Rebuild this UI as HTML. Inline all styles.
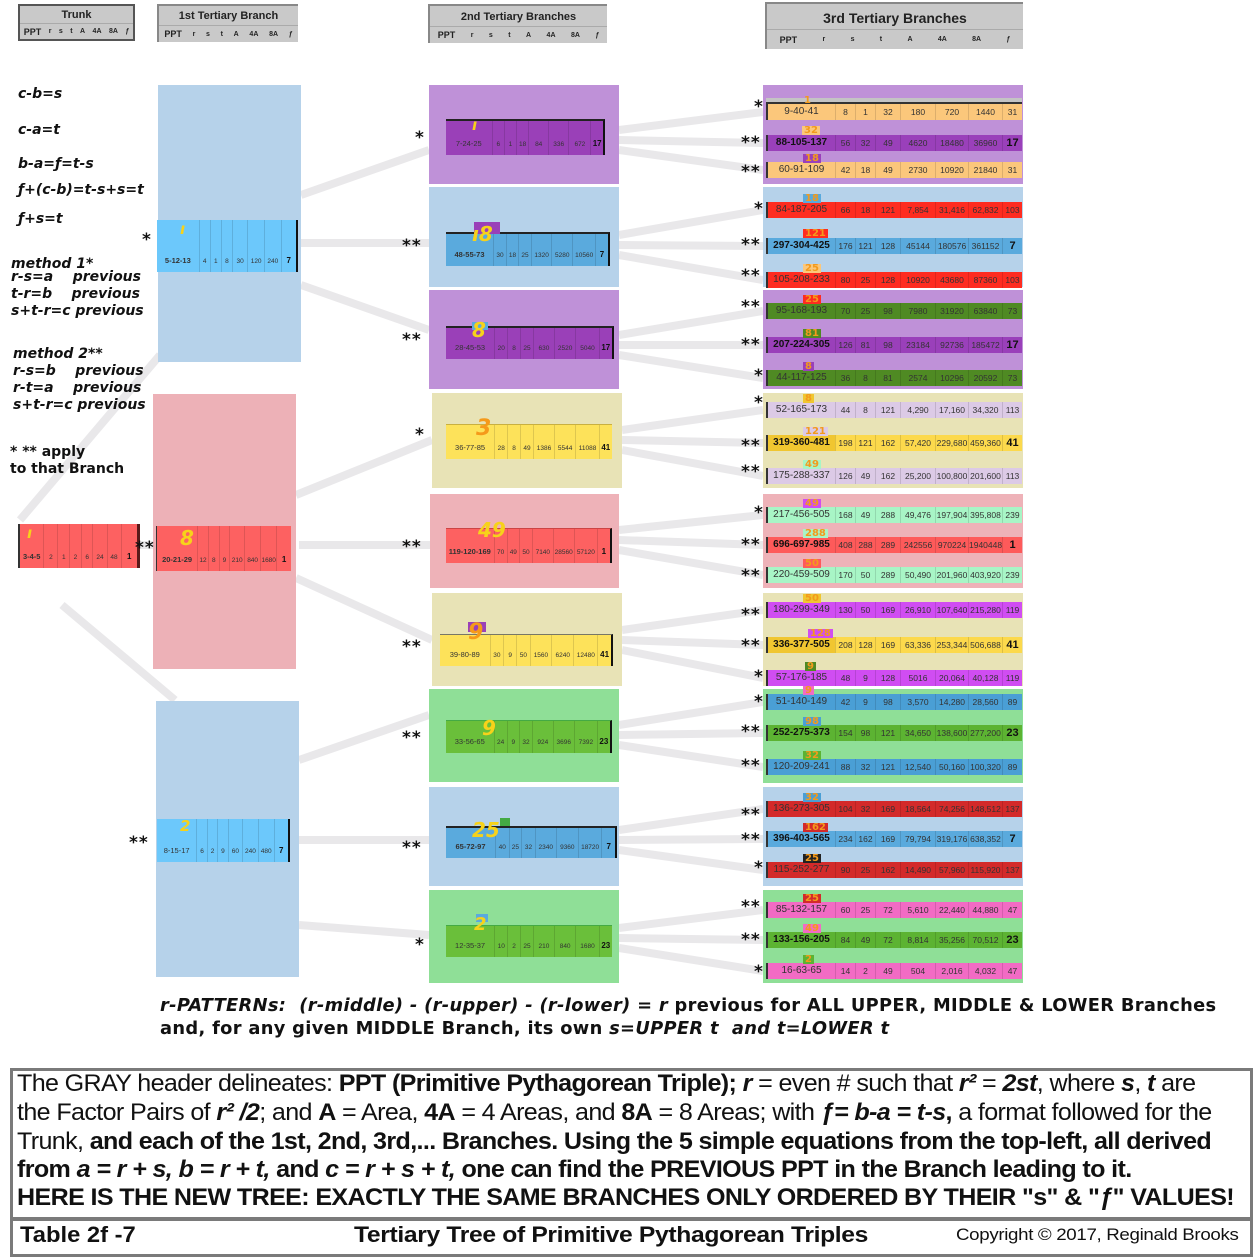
<!DOCTYPE html>
<html><head><meta charset="utf-8">
<style>
*{margin:0;padding:0;box-sizing:border-box}
body{width:1260px;height:1260px;background:#fff;position:relative;overflow:hidden;font-family:"Liberation Sans",sans-serif;color:#111}
.a{position:absolute}
.hd{position:absolute;background:#c9c9c9;border-top:2px solid #888;border-left:2px solid #888;text-align:center;font-weight:bold;color:#222}
.hd .sub{position:absolute;left:0;right:0;bottom:0;display:flex;justify-content:space-around;align-items:center;font-size:7px;border-top:1px solid #aaa}
.hd .sub b:first-child{font-size:9px}
.r3{position:absolute;left:766px;width:256px;height:16px;display:grid;grid-template-columns:69px 20px 20px 25px 35px 33px 34px 20px;font-size:8.5px;color:#333}
.r3 span{text-align:center;line-height:16px;border-left:1px solid rgba(0,0,0,.12);white-space:nowrap;overflow:hidden}
.r3 span:first-child{font-size:10px;border-left:2px solid #333}
.r3.b span:first-child{font-weight:bold;color:#111}
.r3.b span:last-child{font-weight:bold;font-size:11px;color:#111}
.r2{position:absolute;display:grid;grid-template-columns:29% 8% 7.5% 8% 12.5% 13% 14% 8%;font-size:6.5px;color:#333;border-right:2px solid #111;border-top:2px solid #222}
.r2 span{text-align:center;border-left:1px solid rgba(0,0,0,.12);display:flex;align-items:flex-end;justify-content:center;padding-bottom:7px}
.r2 span:first-child{font-size:7.5px;border-left:none}
.r2 span:last-child{font-weight:bold;font-size:8px;color:#111}
.st{position:absolute;font:bold 17px "DejaVu Sans",sans-serif;color:#111;letter-spacing:1px}
.hw{position:absolute;font:bold 15px "DejaVu Sans",sans-serif;font-style:italic;color:#f7d21a}
.hw3{position:absolute;font:bold 10px "DejaVu Sans",sans-serif;color:#f39a1c;line-height:9px;padding:0 2px}
.lt{position:absolute;font:bold italic 14px "DejaVu Sans",sans-serif;color:#111;white-space:nowrap}
.bt{position:absolute;left:17px;white-space:nowrap;font-size:24px;letter-spacing:-0.6px;color:#111;transform:scaleX(1.045);transform-origin:0 0}
.rp{position:absolute;left:160px;font:bold 18px 'DejaVu Sans Condensed','DejaVu Sans',sans-serif;white-space:nowrap;letter-spacing:0.3px;transform:scaleX(1.1);transform-origin:0 0}
</style></head><body>

<svg class="a" style="left:0;top:0" width="1260" height="1000">
<g stroke="#e9e8ea" stroke-width="8" fill="none">
<line x1="20" y1="520" x2="160" y2="355"/>
<line x1="62" y1="605" x2="175" y2="700"/>
<line x1="126" y1="545" x2="158" y2="545"/>
<line x1="301" y1="195" x2="429" y2="150"/>
<line x1="301" y1="243" x2="429" y2="243"/>
<line x1="301" y1="285" x2="429" y2="330"/>
<line x1="296" y1="495" x2="432" y2="440"/>
<line x1="299" y1="545" x2="430" y2="545"/>
<line x1="296" y1="578" x2="432" y2="640"/>
<line x1="299" y1="760" x2="429" y2="715"/>
<line x1="299" y1="840" x2="429" y2="840"/>
<line x1="299" y1="925" x2="429" y2="935"/>
<line x1="619" y1="130" x2="763" y2="112"/><line x1="619" y1="140" x2="763" y2="143"/><line x1="619" y1="150" x2="763" y2="170"/>
<line x1="619" y1="235" x2="763" y2="210"/><line x1="619" y1="245" x2="763" y2="246"/><line x1="619" y1="255" x2="763" y2="280"/>
<line x1="619" y1="335" x2="763" y2="311"/><line x1="619" y1="345" x2="763" y2="345"/><line x1="619" y1="355" x2="763" y2="378"/>
<line x1="622" y1="430" x2="763" y2="410"/><line x1="622" y1="440" x2="763" y2="443"/><line x1="622" y1="450" x2="763" y2="476"/>
<line x1="619" y1="530" x2="763" y2="515"/><line x1="619" y1="540" x2="763" y2="545"/><line x1="619" y1="550" x2="763" y2="575"/>
<line x1="622" y1="630" x2="763" y2="610"/><line x1="622" y1="640" x2="763" y2="645"/><line x1="622" y1="650" x2="763" y2="678"/>
<line x1="619" y1="725" x2="763" y2="702"/><line x1="619" y1="735" x2="763" y2="733"/><line x1="619" y1="745" x2="763" y2="767"/>
<line x1="619" y1="830" x2="763" y2="809"/><line x1="619" y1="840" x2="763" y2="839"/><line x1="619" y1="850" x2="763" y2="870"/>
<line x1="619" y1="928" x2="763" y2="910"/><line x1="619" y1="938" x2="763" y2="940"/><line x1="619" y1="948" x2="763" y2="971"/>
</g></svg>

<div class="hd" style="left:18px;top:4px;width:117px;height:37px;border:2px solid #555;font-size:11px;padding-top:3px">Trunk
<div class="sub" style="height:16px"><b>PPT</b><b>r</b><b>s</b><b>t</b><b>A</b><b>4A</b><b>8A</b><b>ƒ</b></div></div>
<div class="hd" style="left:157px;top:4px;width:141px;height:38px;font-size:11px;padding-top:4px">1st Tertiary Branch
<div class="sub" style="height:17px"><b>PPT</b><b>r</b><b>s</b><b>t</b><b>A</b><b>4A</b><b>8A</b><b>ƒ</b></div></div>
<div class="hd" style="left:428px;top:4px;width:179px;height:39px;font-size:11px;padding-top:5px">2nd Tertiary Branches
<div class="sub" style="height:17px"><b>PPT</b><b>r</b><b>s</b><b>t</b><b>A</b><b>4A</b><b>8A</b><b>ƒ</b></div></div>
<div class="hd" style="left:765px;top:2px;width:258px;height:47px;font-size:14px;padding-top:6px">3rd Tertiary Branches
<div class="sub" style="height:20px"><b>PPT</b><b>r</b><b>s</b><b>t</b><b>A</b><b>4A</b><b>8A</b><b>ƒ</b></div></div>

<div class="lt" style="left:18px;top:86px">c-b=s</div>
<div class="lt" style="left:18px;top:122px">c-a=t</div>
<div class="lt" style="left:18px;top:156px">b-a=ƒ=t-s</div>
<div class="lt" style="left:18px;top:182px">ƒ+(c-b)=t-s+s=t</div>
<div class="lt" style="left:18px;top:211px">ƒ+s=t</div>
<div class="lt" style="left:11px;top:256px">method 1*</div>
<div class="lt" style="left:11px;top:269px">r-s=a&nbsp;&nbsp;&nbsp;&nbsp;previous</div>
<div class="lt" style="left:11px;top:286px">t-r=b&nbsp;&nbsp;&nbsp;&nbsp;previous</div>
<div class="lt" style="left:11px;top:303px">s+t-r=c previous</div>
<div class="lt" style="left:13px;top:346px">method 2**</div>
<div class="lt" style="left:13px;top:363px">r-s=b&nbsp;&nbsp;&nbsp;&nbsp;previous</div>
<div class="lt" style="left:13px;top:380px">r-t=a&nbsp;&nbsp;&nbsp;&nbsp;previous</div>
<div class="lt" style="left:13px;top:397px">s+t-r=c previous</div>
<div class="lt" style="left:10px;top:444px;font-style:normal">* ** apply</div>
<div class="lt" style="left:10px;top:461px;font-style:normal">to that Branch</div>

<div class="a" style="left:158px;top:85px;width:143px;height:277px;background:#b6d2ea"></div>
<div class="a" style="left:153px;top:394px;width:143px;height:275px;background:#edb1b7"></div>
<div class="a" style="left:156px;top:701px;width:143px;height:276px;background:#b6d2ea"></div>

<div class="r2" style="left:157px;top:220px;width:141px;height:52px;background:#6cc8fb;border-top:none;grid-template-columns:30% 8% 8% 8% 11% 12% 12% 11%"><span style="font-weight:bold">5-12-13</span><span>4</span><span>1</span><span>8</span><span>30</span><span>120</span><span>240</span><span>7</span></div>
<div class="r2" style="left:156px;top:526px;width:135px;height:45px;background:#fd6161;border-top:none;border-right:none;border-left:1px solid #333;grid-template-columns:30% 8% 8% 8% 11% 12% 12% 11%"><span style="font-weight:bold">20-21-29</span><span>12</span><span>8</span><span>9</span><span>210</span><span>840</span><span>1680</span><span>1</span></div>
<div class="r2" style="left:157px;top:819px;width:133px;height:43px;background:#6cc8fb;border-top:none;grid-template-columns:30% 8% 8% 8% 11% 12% 12% 11%"><span>8-15-17</span><span>6</span><span>2</span><span>9</span><span>60</span><span>240</span><span>480</span><span>7</span></div>
<div class="r2" style="left:18px;top:524px;width:122px;height:44px;background:#fd6161;border-top:none;border-left:2px solid #333;border-right:3px solid #5a1a1a;grid-template-columns:20% 12% 10% 10% 10% 12% 12% 14%"><span style="font-weight:bold">3-4-5</span><span>2</span><span>1</span><span>2</span><span>6</span><span>24</span><span>48</span><span>1</span></div>

<div class="hw" style="left:27px;top:524px">ı</div>
<div class="hw" style="left:180px;top:220px">ı</div>
<div class="hw" style="left:180px;top:526px;font-size:20px">8</div>
<div class="hw" style="left:180px;top:817px">2</div>

<div class="st" style="left:142px;top:230px">*</div>
<div class="st" style="left:135px;top:538px">**</div>
<div class="st" style="left:129px;top:833px">**</div>

<div class="a" style="left:429px;top:85px;width:190px;height:99px;background:#bf91d8"></div>
<div class="a" style="left:429px;top:187px;width:190px;height:100px;background:#b6d2ea"></div>
<div class="a" style="left:429px;top:290px;width:190px;height:99px;background:#bf91d8"></div>
<div class="a" style="left:432px;top:393px;width:190px;height:95px;background:#e8e3b6"></div>
<div class="a" style="left:430px;top:494px;width:189px;height:94px;background:#eeb2b8"></div>
<div class="a" style="left:432px;top:593px;width:190px;height:93px;background:#e8e3b6"></div>
<div class="a" style="left:429px;top:689px;width:190px;height:93px;background:#8fdf97"></div>
<div class="a" style="left:429px;top:787px;width:190px;height:99px;background:#b6d2ea"></div>
<div class="a" style="left:429px;top:890px;width:190px;height:93px;background:#8fdf97"></div>

<div class="r2" style="left:446px;top:119px;width:159px;height:36px;background:#9a40b8"><span>7-24-25</span><span>6</span><span>1</span><span>18</span><span>84</span><span>336</span><span>672</span><span>17</span></div>
<div class="r2" style="left:446px;top:232px;width:164px;height:34px;background:#5aaadd"><span style="font-weight:bold">48-55-73</span><span>30</span><span>18</span><span>25</span><span>1320</span><span>5280</span><span>10560</span><span>7</span></div>
<div class="r2" style="left:446px;top:326px;width:168px;height:33px;background:#9a40b8"><span>28-45-53</span><span>20</span><span>8</span><span>25</span><span>630</span><span>2520</span><span>5040</span><span>17</span></div>
<div class="r2" style="left:446px;top:424px;width:166px;height:35px;background:#fde25a;border-top:1px solid #c9b040;border-right:none"><span>36-77-85</span><span>28</span><span>8</span><span>49</span><span>1386</span><span>5544</span><span>11088</span><span>41</span></div>
<div class="r2" style="left:446px;top:528px;width:166px;height:35px;background:#fd6161;border-top:1px solid #c44"><span style="font-weight:bold">119-120-169</span><span>70</span><span>49</span><span>50</span><span>7140</span><span>28560</span><span>57120</span><span>1</span></div>
<div class="r2" style="left:440px;top:634px;width:173px;height:32px;background:#fde25a;border-top:1px solid #776"><span>39-80-89</span><span>30</span><span>9</span><span>50</span><span>1560</span><span>6240</span><span>12480</span><span>41</span></div>
<div class="r2" style="left:446px;top:720px;width:166px;height:33px;background:#6abf3a;border-top:1px solid #4a4"><span>33-56-65</span><span>24</span><span>9</span><span>32</span><span>924</span><span>3696</span><span>7392</span><span>23</span></div>
<div class="r2" style="left:446px;top:826px;width:171px;height:32px;background:#5aaadd"><span style="font-weight:bold">65-72-97</span><span>40</span><span>25</span><span>32</span><span>2340</span><span>9360</span><span>18720</span><span>7</span></div>
<div class="r2" style="left:446px;top:925px;width:166px;height:32px;background:#6abf3a;border-top:1px solid #4a4;border-right:none"><span>12-35-37</span><span>10</span><span>2</span><span>25</span><span>210</span><span>840</span><span>1680</span><span>23</span></div>

<div class="hw" style="left:472px;top:116px">ı</div>
<div class="a" style="left:474px;top:222px;width:26px;height:12px;background:#9a40b8"></div>
<div class="hw" style="left:472px;top:222px;font-size:20px">ı8</div>
<div class="a" style="left:472px;top:322px;width:16px;height:8px;background:#5aaadd"></div>
<div class="hw" style="left:472px;top:318px;font-size:20px">8</div>
<div class="hw" style="left:476px;top:416px;font-size:22px;color:#f59a1a">3</div>
<div class="hw" style="left:478px;top:518px;font-size:20px">49</div>
<div class="a" style="left:468px;top:622px;width:18px;height:10px;background:#9a40b8"></div>
<div class="hw" style="left:468px;top:620px;font-size:22px;color:#f59a1a">9</div>
<div class="hw" style="left:482px;top:716px;font-size:20px">9</div>
<div class="a" style="left:500px;top:818px;width:10px;height:8px;background:#4a4"></div>
<div class="hw" style="left:472px;top:818px;font-size:20px">25</div>
<div class="a" style="left:476px;top:914px;width:12px;height:8px;background:#5aaadd"></div>
<div class="hw" style="left:474px;top:914px;font-size:18px">2</div>

<div class="st" style="left:415px;top:128px">*</div>
<div class="st" style="left:402px;top:236px">**</div>
<div class="st" style="left:402px;top:330px">**</div>
<div class="st" style="left:415px;top:425px">*</div>
<div class="st" style="left:402px;top:537px">**</div>
<div class="st" style="left:402px;top:637px">**</div>
<div class="st" style="left:402px;top:728px">**</div>
<div class="st" style="left:402px;top:838px">**</div>
<div class="st" style="left:415px;top:935px">*</div>

<div class="a" style="left:763px;top:85px;width:260px;height:99px;background:#bf91d8"></div>
<div class="a" style="left:763px;top:187px;width:260px;height:100px;background:#b6d2ea"></div>
<div class="a" style="left:763px;top:290px;width:260px;height:99px;background:#bf91d8"></div>
<div class="a" style="left:763px;top:393px;width:260px;height:95px;background:#e8e3b6"></div>
<div class="a" style="left:763px;top:494px;width:260px;height:94px;background:#eeb2b8"></div>
<div class="a" style="left:763px;top:593px;width:260px;height:93px;background:#e8e3b6"></div>
<div class="a" style="left:763px;top:689px;width:260px;height:94px;background:#8fdf97"></div>
<div class="a" style="left:763px;top:787px;width:260px;height:99px;background:#b6d2ea"></div>
<div class="a" style="left:763px;top:890px;width:260px;height:93px;background:#8fdf97"></div>
<div class="a" style="left:766px;top:98px;width:256px;height:6px;background:#c4c4c4;border-bottom:2px solid #333"></div>

<div class="r3" style="top:104px;background:#fbc77b"><span>9-40-41</span><span>8</span><span>1</span><span>32</span><span>180</span><span>720</span><span>1440</span><span>31</span></div>
<div class="r3 b" style="top:135px;background:#9a40ba"><span>88-105-137</span><span>56</span><span>32</span><span>49</span><span>4620</span><span>18480</span><span>36960</span><span>17</span></div>
<div class="r3" style="top:162px;background:#fbc77b"><span>60-91-109</span><span>42</span><span>18</span><span>49</span><span>2730</span><span>10920</span><span>21840</span><span>31</span></div>
<div class="r3" style="top:202px;background:#fe2c20"><span>84-187-205</span><span>66</span><span>18</span><span>121</span><span>7,854</span><span>31,416</span><span>62,832</span><span>103</span></div>
<div class="r3 b" style="top:238px;background:#5aaadd"><span>297-304-425</span><span>176</span><span>121</span><span>128</span><span>45144</span><span>180576</span><span>361152</span><span>7</span></div>
<div class="r3" style="top:272px;background:#fe2c20"><span>105-208-233</span><span>80</span><span>25</span><span>128</span><span>10920</span><span>43680</span><span>87360</span><span>103</span></div>
<div class="r3" style="top:303px;background:#4f8a23"><span>95-168-193</span><span>70</span><span>25</span><span>98</span><span>7980</span><span>31920</span><span>63840</span><span>73</span></div>
<div class="r3 b" style="top:337px;background:#9a40ba"><span>207-224-305</span><span>126</span><span>81</span><span>98</span><span>23184</span><span>92736</span><span>185472</span><span>17</span></div>
<div class="r3" style="top:370px;background:#4f8a23"><span>44-117-125</span><span>36</span><span>8</span><span>81</span><span>2574</span><span>10296</span><span>20592</span><span>73</span></div>
<div class="r3" style="top:402px;background:#dccae6"><span>52-165-173</span><span>44</span><span>8</span><span>121</span><span>4,290</span><span>17,160</span><span>34,320</span><span>113</span></div>
<div class="r3 b" style="top:435px;background:#fcd94c"><span style="background:#f0c630">319-360-481</span><span>198</span><span>121</span><span>162</span><span>57,420</span><span>229,680</span><span>459,360</span><span>41</span></div>
<div class="r3" style="top:468px;background:#dccae6"><span>175-288-337</span><span>126</span><span>49</span><span>162</span><span>25,200</span><span>100,800</span><span>201,600</span><span>113</span></div>
<div class="r3" style="top:507px;background:#a8f5c6"><span>217-456-505</span><span>168</span><span>49</span><span>288</span><span>49,476</span><span>197,904</span><span>395,808</span><span>239</span></div>
<div class="r3 b" style="top:537px;background:#fe5a5a"><span>696-697-985</span><span>408</span><span>288</span><span>289</span><span>242556</span><span>970224</span><span>1940448</span><span>1</span></div>
<div class="r3" style="top:567px;background:#a8f5c6"><span>220-459-509</span><span>170</span><span>50</span><span>289</span><span>50,490</span><span>201,960</span><span>403,920</span><span>239</span></div>
<div class="r3" style="top:602px;background:#d04df2"><span>180-299-349</span><span>130</span><span>50</span><span>169</span><span>26,910</span><span>107,640</span><span>215,280</span><span>119</span></div>
<div class="r3 b" style="top:637px;background:#fcd94c"><span style="background:#f0c630">336-377-505</span><span>208</span><span>128</span><span>169</span><span>63,336</span><span>253,344</span><span>506,688</span><span>41</span></div>
<div class="r3" style="top:670px;background:#d04df2"><span>57-176-185</span><span>48</span><span>9</span><span>128</span><span>5016</span><span>20,064</span><span>40,128</span><span>119</span></div>
<div class="r3" style="top:694px;background:#4a9fd5"><span>51-140-149</span><span>42</span><span>9</span><span>98</span><span>3,570</span><span>14,280</span><span>28,560</span><span>89</span></div>
<div class="r3 b" style="top:725px;background:#5cb332"><span>252-275-373</span><span>154</span><span>98</span><span>121</span><span>34,650</span><span>138,600</span><span>277,200</span><span>23</span></div>
<div class="r3" style="top:759px;background:#4a9fd5"><span>120-209-241</span><span>88</span><span>32</span><span>121</span><span>12,540</span><span>50,160</span><span>100,320</span><span>89</span></div>
<div class="r3" style="top:801px;background:#d32a2a"><span>136-273-305</span><span>104</span><span>32</span><span>169</span><span>18,564</span><span>74,256</span><span>148,512</span><span>137</span></div>
<div class="r3 b" style="top:831px;background:#5aaadd"><span>396-403-565</span><span>234</span><span>162</span><span>169</span><span>79,794</span><span>319,176</span><span>638,352</span><span>7</span></div>
<div class="r3" style="top:862px;background:#d32a2a"><span>115-252-277</span><span>90</span><span>25</span><span>162</span><span>14,490</span><span>57,960</span><span>115,920</span><span>137</span></div>
<div class="r3" style="top:902px;background:#f26bc4"><span>85-132-157</span><span>60</span><span>25</span><span>72</span><span>5,610</span><span>22,440</span><span>44,880</span><span>47</span></div>
<div class="r3 b" style="top:932px;background:#5cb332"><span>133-156-205</span><span>84</span><span>49</span><span>72</span><span>8,814</span><span>35,256</span><span>70,512</span><span>23</span></div>
<div class="r3" style="top:963px;background:#f26bc4"><span>16-63-65</span><span>14</span><span>2</span><span>49</span><span>504</span><span>2,016</span><span>4,032</span><span>47</span></div>

<div class="hw3" style="left:802px;top:96px">1</div>
<div class="hw3" style="left:802px;top:126px;background:#fbc77b">32</div>
<div class="hw3" style="left:803px;top:154px;background:#9a40ba">18</div>
<div class="hw3" style="left:803px;top:194px;background:#5aaadd">18</div>
<div class="hw3" style="left:803px;top:229px;background:#fe2c20">121</div>
<div class="hw3" style="left:803px;top:264px;background:#fbc77b">25</div>
<div class="hw3" style="left:803px;top:295px;background:#fe2c20">25</div>
<div class="hw3" style="left:803px;top:329px;background:#4f8a23">81</div>
<div class="hw3" style="left:803px;top:362px;background:#9a40ba">8</div>
<div class="hw3" style="left:803px;top:394px;background:#f0c630">8</div>
<div class="hw3" style="left:803px;top:427px;background:#dccae6">121</div>
<div class="hw3" style="left:803px;top:460px;background:#a8f5c6">49</div>
<div class="hw3" style="left:803px;top:499px;background:#d04df2">49</div>
<div class="hw3" style="left:803px;top:529px;background:#a8f5c6">288</div>
<div class="hw3" style="left:803px;top:559px;background:#fe5a5a">50</div>
<div class="hw3" style="left:803px;top:594px;background:#f0c630">50</div>
<div class="hw3" style="left:808px;top:629px;background:#d04df2">128</div>
<div class="hw3" style="left:805px;top:662px;background:#4f8a23">9</div>
<div class="hw3" style="left:803px;top:686px;background:#f26bc4">9</div>
<div class="hw3" style="left:803px;top:717px;background:#4a9fd5">98</div>
<div class="hw3" style="left:803px;top:751px;background:#5cb332">32</div>
<div class="hw3" style="left:803px;top:793px;background:#4a9fd5">32</div>
<div class="hw3" style="left:803px;top:823px;background:#d32a2a">162</div>
<div class="hw3" style="left:803px;top:854px;background:#222">25</div>
<div class="hw3" style="left:803px;top:894px;background:#d32a2a">25</div>
<div class="hw3" style="left:803px;top:924px;background:#f26bc4">49</div>
<div class="hw3" style="left:803px;top:955px;background:#5cb332">2</div>

<div class="st" style="left:754px;top:97px">*</div>
<div class="st" style="left:741px;top:133px">**</div>
<div class="st" style="left:741px;top:162px">**</div>
<div class="st" style="left:754px;top:199px">*</div>
<div class="st" style="left:741px;top:235px">**</div>
<div class="st" style="left:741px;top:266px">**</div>
<div class="st" style="left:741px;top:297px">**</div>
<div class="st" style="left:741px;top:335px">**</div>
<div class="st" style="left:754px;top:366px">*</div>
<div class="st" style="left:754px;top:393px">*</div>
<div class="st" style="left:741px;top:436px">**</div>
<div class="st" style="left:741px;top:462px">**</div>
<div class="st" style="left:754px;top:503px">*</div>
<div class="st" style="left:741px;top:535px">**</div>
<div class="st" style="left:741px;top:566px">**</div>
<div class="st" style="left:741px;top:605px">**</div>
<div class="st" style="left:741px;top:636px">**</div>
<div class="st" style="left:754px;top:667px">*</div>
<div class="st" style="left:754px;top:692px">*</div>
<div class="st" style="left:741px;top:722px">**</div>
<div class="st" style="left:741px;top:756px">**</div>
<div class="st" style="left:741px;top:805px">**</div>
<div class="st" style="left:741px;top:830px">**</div>
<div class="st" style="left:754px;top:858px">*</div>
<div class="st" style="left:741px;top:897px">**</div>
<div class="st" style="left:741px;top:930px">**</div>
<div class="st" style="left:754px;top:962px">*</div>

<div class="rp" style="top:995px"><i>r-PATTERNs:&nbsp; (r-middle) - (r-upper) - (r-lower) = r</i> previous for ALL UPPER, MIDDLE &amp; LOWER Branches</div>
<div class="rp" style="top:1018px">and, for any given MIDDLE Branch, its own <i>s=UPPER t&nbsp; and t=LOWER t</i></div>

<div class="a" style="left:10px;top:1068px;width:1243px;height:189px;border:3px solid #7a7a7a"></div>
<div class="a" style="left:13px;top:1217px;width:1237px;height:4px;background:#7a7a7a"></div>
<div class="bt" style="top:1070px">The GRAY header delineates: <b>PPT (Primitive Pythagorean Triple);</b> <b><i>r</i></b> = even # such that <b><i>r²</i></b> = <b><i>2st</i></b>, where <b><i>s</i></b>, <b><i>t</i></b> are</div>
<div class="bt" style="top:1099px">the Factor Pairs of <b><i>r² /2</i></b>; and <b>A</b> = Area, <b>4A</b> = 4 Areas, and <b>8A</b> = 8 Areas; with <b><i>ƒ= b-a = t-s</i>,</b> a format followed for the</div>
<div class="bt" style="top:1128px">Trunk, <b>and each of the 1st, 2nd, 3rd,... Branches. Using the 5 simple equations from the top-left, all derived</b></div>
<div class="bt" style="top:1156px"><b>from <i>a = r + s, b = r + t,</i> and <i>c = r + s + t,</i> one can find the PREVIOUS PPT in the Branch leading to it.</b></div>
<div class="bt" style="top:1184px"><b>HERE IS THE NEW TREE: EXACTLY THE SAME BRANCHES ONLY ORDERED BY THEIR "s" &amp; "<i>ƒ</i>" VALUES!</b></div>
<div class="a" style="left:20px;top:1222px;font:bold 22px 'Liberation Sans',sans-serif;transform:scaleX(1.08);transform-origin:0 0">Table 2f -7</div>
<div class="a" style="left:354px;top:1222px;font:bold 22px 'Liberation Sans',sans-serif;letter-spacing:-0.3px;transform:scaleX(1.12);transform-origin:0 0">Tertiary Tree of Primitive Pythagorean Triples</div>
<div class="a" style="left:956px;top:1225px;font:17px 'Liberation Sans',sans-serif;letter-spacing:-0.3px;transform:scaleX(1.1);transform-origin:0 0">Copyright © 2017, Reginald Brooks</div>
</body></html>
